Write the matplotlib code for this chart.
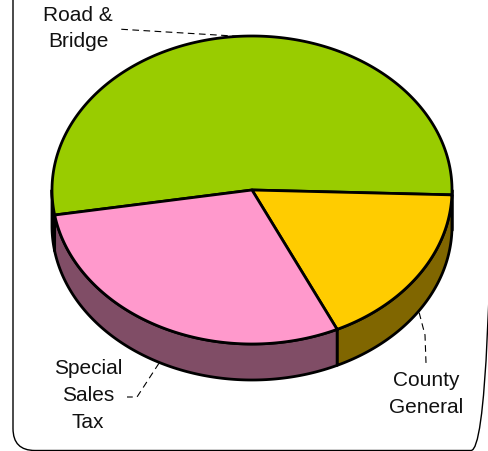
import numpy as np
import matplotlib.pyplot as plt
from matplotlib.patches import Polygon, FancyBboxPatch

plt.rcParams['font.family'] = ['Liberation Sans', 'DejaVu Sans']

# revenue shares (percent), clockwise
labels = ["Road &\nBridge", "County\nGeneral", "Special\nSales\nTax"]
shares = [53.1, 17.5, 29.4]
top_colors = ["#99CC00", "#FFCC00", "#FF99CC"]
side_colors = ["#4D6600", "#806600", "#804D66"]

start_angle = 189.35
cx, cy = 252, 190      # centre of the top face (pixels)
rx, ry = 200, 154
depth = 36

fig = plt.figure(figsize=(4.88, 4.51), dpi=100)
ax = fig.add_axes([0, 0, 1, 1])
ax.set_xlim(0, 488)
ax.set_ylim(451, 0)
ax.axis("off")


def arc(a0, a1, dy=0, n=200):
    t = np.radians(np.linspace(a0, a1, n))
    return np.column_stack([cx + rx * np.cos(t), cy - ry * np.sin(t) + dy])


bounds = start_angle - np.cumsum([0] + shares) * 3.6

# side walls (only the front half shows)
for i in range(len(shares)):
    hi, lo = bounds[i], bounds[i + 1]
    for k in (-360, 0, 360):
        a0, a1 = max(lo, -180 + k), min(hi, k)
        if a1 <= a0:
            continue
        pts = np.vstack([arc(a0, a1), arc(a1, a0, depth)])
        ax.add_patch(Polygon(pts, closed=True, facecolor=side_colors[i],
                             edgecolor="black", lw=2, joinstyle="round"))

# top face
for i in range(len(shares)):
    hi, lo = bounds[i], bounds[i + 1]
    pts = np.vstack([[cx, cy], arc(hi, lo)])
    ax.add_patch(Polygon(pts, closed=True, facecolor=top_colors[i],
                         edgecolor="black", lw=2, joinstyle="round"))

# labels with dashed leaders
mids = (bounds[:-1] + bounds[1:]) / 2
anchors = [arc(m, m, n=1)[0] for m in mids]
anchors[1][1] += depth + 2
anchors[2][1] += depth + 1

leaders = [
    [(117, 29)],
    [(425, 335), (426, 363)],
    [(137, 397), (127, 397)],
]
text_pos = [(78, 28.5), (426, 394), (88, 395.5)]

for lab, anc, path, pos in zip(labels, anchors, leaders, text_pos):
    xs = [anc[0]] + [p[0] for p in path]
    ys = [anc[1]] + [p[1] for p in path]
    ax.plot(xs, ys, color="black", lw=0.8, ls=(0, (6, 4)))
    ax.text(pos[0], pos[1], lab, ha="center", va="center", fontsize=15,
            linespacing=1.53, color="#111111")

# rounded frame
ax.add_patch(FancyBboxPatch((13, -40), 480, 490.5,
                            boxstyle="round,pad=0,rounding_size=22",
                            facecolor="none", edgecolor="black", lw=1))

fig.savefig("out.png", dpi=100)
